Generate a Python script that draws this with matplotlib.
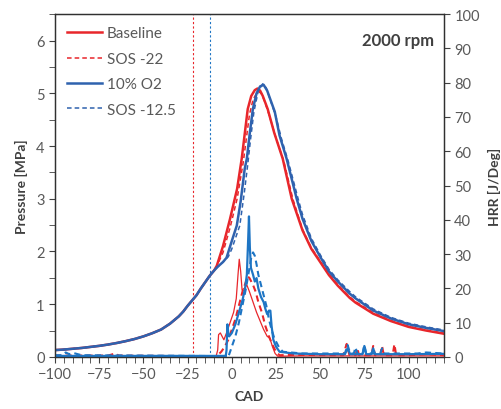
import numpy as np
import matplotlib.pyplot as plt
from matplotlib.ticker import MultipleLocator

# compression part shared by all four runs (CAD, MPa)
cad_comp = [-100, -95, -90, -85, -80, -75, -70, -65, -60, -55, -50, -45, -40, -35, -30,
            -27.5, -25, -22.5, -20, -17.5, -15, -12.5, -10]
p_comp = [0.13, 0.14, 0.155, 0.17, 0.19, 0.21, 0.235, 0.265, 0.3, 0.34, 0.39, 0.45, 0.52, 0.63, 0.77,
          0.86, 0.97, 1.07, 1.17, 1.3, 1.42, 1.54, 1.64]

# combustion / expansion part
cad_base = [-8.5, -5, -1, 3, 5.6, 9, 11, 13, 14.5, 16, 17.5, 20.3, 24, 28.8, 33.9, 40, 45, 50,
            55, 60, 66.7, 70, 80, 90, 100, 110, 120]
p_base = [1.73, 2.1, 2.62, 3.19, 3.76, 4.7, 4.95, 5.06, 5.09, 5.05, 4.95, 4.7, 4.25, 3.76, 3.0, 2.4, 2.05, 1.8,
          1.55, 1.35, 1.12, 1.03, 0.82, 0.68, 0.57, 0.5, 0.44]

cad_sos22 = [-8.5, -5, -1, 3, 6.5, 10, 12, 14, 15.5, 17, 18.5, 21, 25, 29.5, 34.5, 40, 45, 50,
             55, 60, 66.7, 70, 80, 90, 100, 110, 120]
p_sos22 = [1.72, 1.98, 2.45, 3.0, 3.7, 4.6, 4.88, 5.0, 5.03, 4.98, 4.85, 4.6, 4.15, 3.7, 3.0, 2.42, 2.07, 1.82,
           1.57, 1.37, 1.14, 1.05, 0.84, 0.69, 0.58, 0.51, 0.45]

cad_o2 = [-8, -5, -3, 0, 2.8, 5, 7.3, 8.5, 10, 11.9, 14, 16, 18, 20, 24.3, 27, 31, 36.7, 40, 45,
          50, 55, 60, 66.7, 70, 80, 90, 100, 110, 120]
p_o2 = [1.71, 1.8, 1.88, 2.2, 2.49, 2.95, 3.57, 3.76, 4.2, 4.7, 5.0, 5.13, 5.16, 5.05, 4.65, 4.2, 3.76, 3.0, 2.62, 2.2,
        1.9, 1.62, 1.43, 1.2, 1.11, 0.88, 0.73, 0.62, 0.55, 0.49]

cad_sos125 = [-8, -5, -2, 0, 4.5, 7, 9, 10.5, 12.5, 15, 17.5, 19.5, 21, 25, 28, 32, 37.5, 40, 45,
              50, 55, 60, 66.7, 70, 80, 90, 100, 110, 120]
p_sos125 = [1.71, 1.8, 1.9, 2.05, 2.49, 3.1, 3.65, 4.1, 4.65, 5.05, 5.18, 5.1, 4.95, 4.55, 4.15, 3.7, 3.0, 2.7, 2.25,
            1.94, 1.66, 1.46, 1.24, 1.14, 0.91, 0.75, 0.64, 0.57, 0.51]

# crank angle / heat release rate [J/Deg]
cad_hrr_base = [-100, -60, -20, -10, -9, -8, -7.5, -6.5, -5.5, -4.5, -3, -1, 1, 2.5, 3.5, 4.2, 5, 5.8,
                7, 8.5, 10, 12, 14, 16, 18, 20, 21.5, 23, 24.5, 26, 40, 60, 120]
hrr_base = [0.3, 0.3, 0.2, 0.2, 0.0, 2, 6.5, 7, 6, 5, 7, 10, 13, 17, 24, 28.5, 25, 19.5,
            20, 21, 19, 16, 13, 10.5, 8, 6, 5.5, 3, 1, 0.2, 0.3, 0.3, 0.3]

cad_hrr_sos22 = [-100, -70, -66, -64, -40, -10, -9, -6, -4, -2, 0, 2, 4, 6, 8, 9, 10, 11, 12, 13.5,
                 15, 17, 19, 21, 23, 25, 27, 35, 63, 65, 66.5, 70, 71, 72, 79, 80, 81, 84, 85, 86, 91, 92, 93,
                 100, 110, 120]
hrr_sos22 = [0.4, 0.4, 1.0, 0.4, 0.3, 0.2, 0.0, 1.5, 3, 5, 8, 11, 15, 19, 22, 23.5, 23, 22, 21, 19,
             16, 13, 9, 6, 3.5, 1.5, 0.5, 0.6, 0.5, 3.8, 0.6, 0.5, 2.5, 0.5, 0.5, 3.2, 0.5, 0.5, 3.2, 0.5, 0.5, 3.7, 0.5,
             0.5, 0.8, 0.5]

cad_hrr_o2 = [-100, -60, -20, -4, -3.5, -3, -2.5, -2, -1.5, 0, 2, 4, 6, 7.5, 8.5, 9.3, 9.7, 10.2, 10.8,
              12, 13, 14, 15, 16.5, 18, 19, 20, 21, 21.8, 22.5, 23.5, 25, 27, 35, 50, 64, 65.5, 67, 74, 75, 76,
              79, 80, 81, 100, 120]
hrr_o2 = [0.3, 0.3, 0.3, 0.3, 0.0, 2, 9.5, 7, 6, 7, 9.5, 13, 16.5, 20, 24, 35, 41, 32, 26,
          24, 22, 23, 20, 17.5, 16, 14, 12.5, 13.5, 13.5, 9, 5, 3, 1.5, 1.0, 0.8, 0.8, 2.5, 0.8, 0.8, 3.2, 0.8,
          0.8, 2.5, 0.8, 0.8, 0.9]

cad_hrr_sos125 = [-100, -96, -94, -92, -90, -85, -60, -20, -3, -2, 0, 2, 4, 6, 8, 10, 11, 12, 13, 14,
                  15, 16.5, 18, 19.5, 21, 22.5, 24, 25.5, 27, 29, 40, 64, 65.5, 67, 69, 70, 71, 74, 75, 76, 84, 85,
                  86, 105, 110, 120]
hrr_sos125 = [0.5, 0.5, 1.3, 0.8, 1.2, 0.5, 0.4, 0.3, 0.2, 0.0, 3, 6, 10, 15, 20, 26, 29, 30.5, 29.5, 27,
              24, 21, 18, 15, 11, 8, 5.5, 4, 2.5, 1.5, 1.0, 1.0, 3.5, 1.0, 1.0, 2.8, 1.0, 1.0, 3.5, 1.0, 1.0, 2.5,
              1.0, 1.0, 1.3, 1.0]

sos_base = -22
sos_o2 = -12.5

red = '#E8262B'
blue_p = '#2F62AE'
blue_h = '#1E75C4'
grey = '#595959'

plt.rcParams['font.family'] = ['Lato', 'DejaVu Sans']

fig = plt.figure(figsize=(5.01, 4.10), dpi=100)
ax = fig.add_axes([0.11, 0.127, 0.776, 0.836])
ax2 = ax.twinx()

ax.axvline(sos_base, color=red, lw=0.8, ls=(0, (2, 2)))
ax.axvline(sos_o2, color=blue_h, lw=0.8, ls=(0, (2, 2)))

ax.plot(cad_comp + cad_base, p_comp + p_base, color=red, lw=1.8, label='Baseline')
ax.plot(cad_comp + cad_sos22, p_comp + p_sos22, color=red, lw=1.1, ls=(0, (3, 2)), label='SOS -22')
ax.plot(cad_comp + cad_o2, p_comp + p_o2, color=blue_p, lw=1.8, label='10% O2')
ax.plot(cad_comp + cad_sos125, p_comp + p_sos125, color=blue_p, lw=1.1, ls=(0, (3, 2)), label='SOS -12.5')

ax2.plot(cad_hrr_base, hrr_base, color=red, lw=0.9)
ax2.plot(cad_hrr_sos22, hrr_sos22, color=red, lw=1.5, ls=(0, (3, 2)))
ax2.plot(cad_hrr_o2, hrr_o2, color=blue_h, lw=1.6)
ax2.plot(cad_hrr_sos125, hrr_sos125, color=blue_h, lw=1.5, ls=(0, (3, 2)))

ax.set_xlim(-100, 120)
ax.set_ylim(0, 6.5)
ax2.set_ylim(0, 100)

ax.xaxis.set_major_locator(MultipleLocator(25))
ax.xaxis.set_minor_locator(MultipleLocator(5))
ax.yaxis.set_major_locator(MultipleLocator(1))
ax.yaxis.set_minor_locator(MultipleLocator(0.5))
ax2.yaxis.set_major_locator(MultipleLocator(10))

for a in (ax, ax2):
    a.tick_params(which='both', direction='out', colors='#404040', labelcolor=grey, labelsize=10.5)
    a.tick_params(which='major', length=4)
    a.tick_params(which='minor', length=4)
    for s in a.spines.values():
        s.set_color('#303030')
        s.set_linewidth(0.9)

ax.set_xlabel('CAD', fontsize=10, fontweight='bold', color='#404040', labelpad=6)
ax.set_ylabel('Pressure [MPa]', fontsize=10, fontweight='bold', color='#404040', labelpad=6)
ax2.set_ylabel('HRR [J/Deg]', fontsize=10, fontweight='bold', color='#404040', labelpad=6)

ax.text(0.975, 0.925, '2000 rpm', transform=ax.transAxes, ha='right', va='center',
        fontsize=12, fontweight='bold', color='#404040')

leg = ax.legend(loc='upper left', frameon=False, fontsize=11, handlelength=2.3,
                labelspacing=0.75, handletextpad=0.3, borderaxespad=0.4)
for t in leg.get_texts():
    t.set_color(grey)

fig.savefig('out.png', dpi=100)
